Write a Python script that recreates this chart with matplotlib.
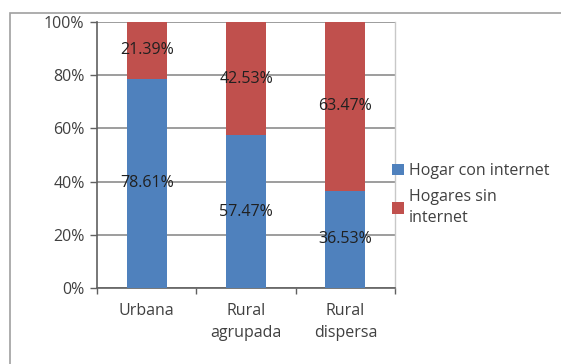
import matplotlib
matplotlib.use("Agg")
import matplotlib.pyplot as plt
from matplotlib.patches import Rectangle, Patch
from matplotlib.ticker import FixedLocator

plt.rcParams['font.family'] = ['Open Sans', 'DejaVu Sans']

categories = ["Urbana", "Rural\nagrupada", "Rural\ndispersa"]
con_internet = [78.61, 57.47, 36.53]
sin_internet = [21.39, 42.53, 63.47]
series_names = ["Hogar con internet", "Hogares sin\ninternet"]
y_ticks = [0, 20, 40, 60, 80, 100]

blue = "#4F81BD"
red = "#C0504D"
text_col = "#404040"

W, H = 561, 364
fig = plt.figure(figsize=(W / 100, H / 100), dpi=100)

# outer chart frame (continues past right/bottom edges)
fig.add_artist(Rectangle((10 / W, -0.1), 1.2, (H - 13) / H + 0.1,
                         transform=fig.transFigure, fill=False,
                         edgecolor="#a0a0a0", linewidth=1.2))

left, right, top, bottom = 97, 395, 22, 288
ax = fig.add_axes([left / W, 1 - bottom / H, (right - left) / W, (bottom - top) / H])

x = list(range(len(categories)))
ax.bar(x, con_internet, width=0.4, color=blue, zorder=3)
ax.bar(x, sin_internet, width=0.4, bottom=con_internet, color=red, zorder=3)

for i in x:
    ax.text(i, con_internet[i] / 2, f"{con_internet[i]:.2f}%", ha="center", va="center",
            fontsize=11.5, color="#202020", zorder=4)
    ax.text(i, con_internet[i] + sin_internet[i] / 2, f"{sin_internet[i]:.2f}%",
            ha="center", va="center", fontsize=11.5, color="#202020", zorder=4)

ax.set_xlim(-0.5, len(categories) - 0.5)
ax.set_ylim(0, 100)
ax.set_yticks(y_ticks)
ax.set_yticklabels([f"{v}%" for v in y_ticks], fontsize=11.5, color=text_col)
ax.yaxis.grid(True, color="#8c8c8c", linewidth=1.2, zorder=0)

ax.set_xticks(x)
ax.set_xticklabels(categories, fontsize=11.5, color=text_col, linespacing=1.5)
ax.tick_params(axis="x", length=0, pad=11)
ax.xaxis.set_minor_locator(FixedLocator([-0.5, 0.5, 1.5, 2.5]))
ax.tick_params(axis="x", which="minor", length=4, color="#606060", width=1)
ax.tick_params(axis="y", length=5, color="#606060", width=1, pad=4)

for s in ["left", "bottom"]:
    ax.spines[s].set_color("#606060")
    ax.spines[s].set_linewidth(1.2)
ax.spines["top"].set_visible(False)
ax.spines["right"].set_color("#c8c8c8")
ax.spines["right"].set_linewidth(1.0)

handles = [Patch(facecolor=blue), Patch(facecolor=red)]
leg = fig.legend(handles, series_names, loc="upper left", bbox_to_anchor=(389 / W, 1 - 160 / H),
                 frameon=False, fontsize=11.5, handlelength=0.75, handleheight=0.75,
                 handletextpad=0.3, labelspacing=0.6, labelcolor=text_col, borderaxespad=0,
                 borderpad=0.2)
for t in leg.get_texts():
    t.set_linespacing(1.45)

fig.savefig("out.png", dpi=100)
